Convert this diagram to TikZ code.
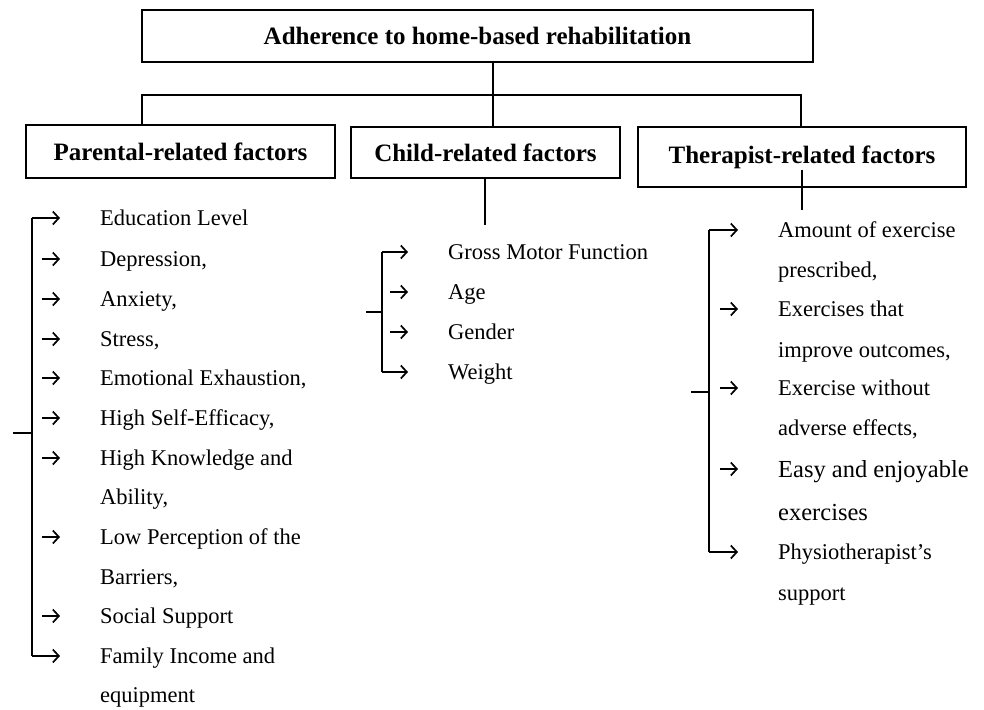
\documentclass[tikz,border=0pt]{standalone}
\usepackage{fontspec}
\setmainfont{Liberation Serif}
\usetikzlibrary{arrows.meta,calc}
\begin{document}
\begin{tikzpicture}[x=1pt,y=-1pt,
  titlebox/.style={draw,line width=1.8pt,inner sep=0pt,font=\fontsize{25}{30}\selectfont\bfseries},
  conn/.style={line width=1.6pt},
  itemtext/.style={anchor=base west,inner sep=0pt,font=\fontsize{22.5}{27}\selectfont},
  bigtext/.style={itemtext,font=\fontsize{24.5}{29}\selectfont},
  arr/.style={line width=1.7pt,-{Straight Barb[length=6pt,width=13pt,line width=1.7pt]}}
]
\useasboundingbox (0,0) rectangle (984,709);
% title boxes
\node[titlebox,minimum width=671pt,minimum height=52pt] (top) at (477.5,36) {Adherence to home-based rehabilitation};
\node[titlebox,minimum width=309pt,minimum height=53pt] (par) at (180.5,151.5) {Parental-related factors};
\node[titlebox,minimum width=269pt,minimum height=51pt] (chi) at (485.5,152.5) {Child-related factors};
\node[titlebox,minimum width=328pt,minimum height=60pt] (ther) at (802,157) {Therapist-related factors};
% tree connectors
\coordinate (jc) at (493,95);
\coordinate (jl) at (142,95);
\coordinate (jr) at (801,95);
\draw[conn] (jc |- top.south) -- (jc |- chi.north);
\draw[conn] (jl |- par.north) -- (jl) -- (jr) -- (jr |- ther.north);
\coordinate (cs) at (485,225);
\draw[conn] (cs |- chi.south) -- (cs);
\coordinate (ts1) at (802,170);
\coordinate (ts2) at (802,210);
\draw[conn] (ts1) -- (ts2);

% Parental items
\foreach \n/\y/\t in {p1/218/{Education Level},p2/259/{Depression,},p3/299/{Anxiety,},p4/339/{Stress,},p5/378/{Emotional Exhaustion,},p6/418/{High Self-Efficacy,},p7/458/{High Knowledge and},p7b/497/{Ability,},p8/537/{Low Perception of the},p8b/577/{Barriers,},p9/616/{Social Support},p10/656/{Family Income and},p10b/695/{equipment}}
  {\node[itemtext] (\n) at (100,\y+7.5) {\t};
   \coordinate (\n-a) at (100,\y);}
\coordinate (pb) at (32,218);
\coordinate (pt) at (13,433);
\draw[conn] (pb |- p10-a) -- (pb |- p1-a);
\draw[conn] (pt) -- (pt -| pb);
\draw[arr] (pb |- p1-a) -- ([xshift=-40pt]p1-a);
\draw[arr] (pb |- p10-a) -- ([xshift=-40pt]p10-a);
\foreach \n in {p2,p3,p4,p5,p6,p7,p8,p9}
  \draw[arr] ([xshift=-58pt]\n-a) -- ([xshift=-40pt]\n-a);

% Child items
\foreach \n/\y/\t in {c1/252/{Gross Motor Function},c2/292/{Age},c3/332/{Gender},c4/372/{Weight}}
  {\node[itemtext] (\n) at (448,\y+7.5) {\t};
   \coordinate (\n-a) at (448,\y);}
\coordinate (cb) at (382,252);
\coordinate (ct) at (366,312);
\draw[conn] (cb |- c4-a) -- (cb |- c1-a);
\draw[conn] (ct) -- (ct -| cb);
\draw[arr] (cb |- c1-a) -- ([xshift=-40pt]c1-a);
\draw[arr] (cb |- c4-a) -- ([xshift=-40pt]c4-a);
\foreach \n in {c2,c3}
  \draw[arr] ([xshift=-58pt]\n-a) -- ([xshift=-40pt]\n-a);

% Therapist items
\foreach \n/\y/\t in {t1/230/{Amount of exercise},t1b/270/{prescribed,},t2/309/{Exercises that},t2b/350/{improve outcomes,},t3/388/{Exercise without},t3b/428/{adverse effects,},t5/552/{Physiotherapist’s},t5b/593/{support}}
  {\node[itemtext] (\n) at (778,\y+7.5) {\t};
   \coordinate (\n-a) at (778,\y);}
\node[bigtext] (t4) at (778,477) {Easy and enjoyable};
\coordinate (t4-a) at (778,469);
\node[bigtext] (t4b) at (778,520) {exercises};
\coordinate (tb) at (709,230);
\coordinate (tt) at (691,392);
\draw[conn] (tb |- t5-a) -- (tb |- t1-a);
\draw[conn] (tt) -- (tt -| tb);
\draw[arr] (tb |- t1-a) -- ([xshift=-40pt]t1-a);
\draw[arr] (tb |- t5-a) -- ([xshift=-40pt]t5-a);
\foreach \n in {t2,t3,t4}
  \draw[arr] ([xshift=-58pt]\n-a) -- ([xshift=-40pt]\n-a);
\end{tikzpicture}
\end{document}
